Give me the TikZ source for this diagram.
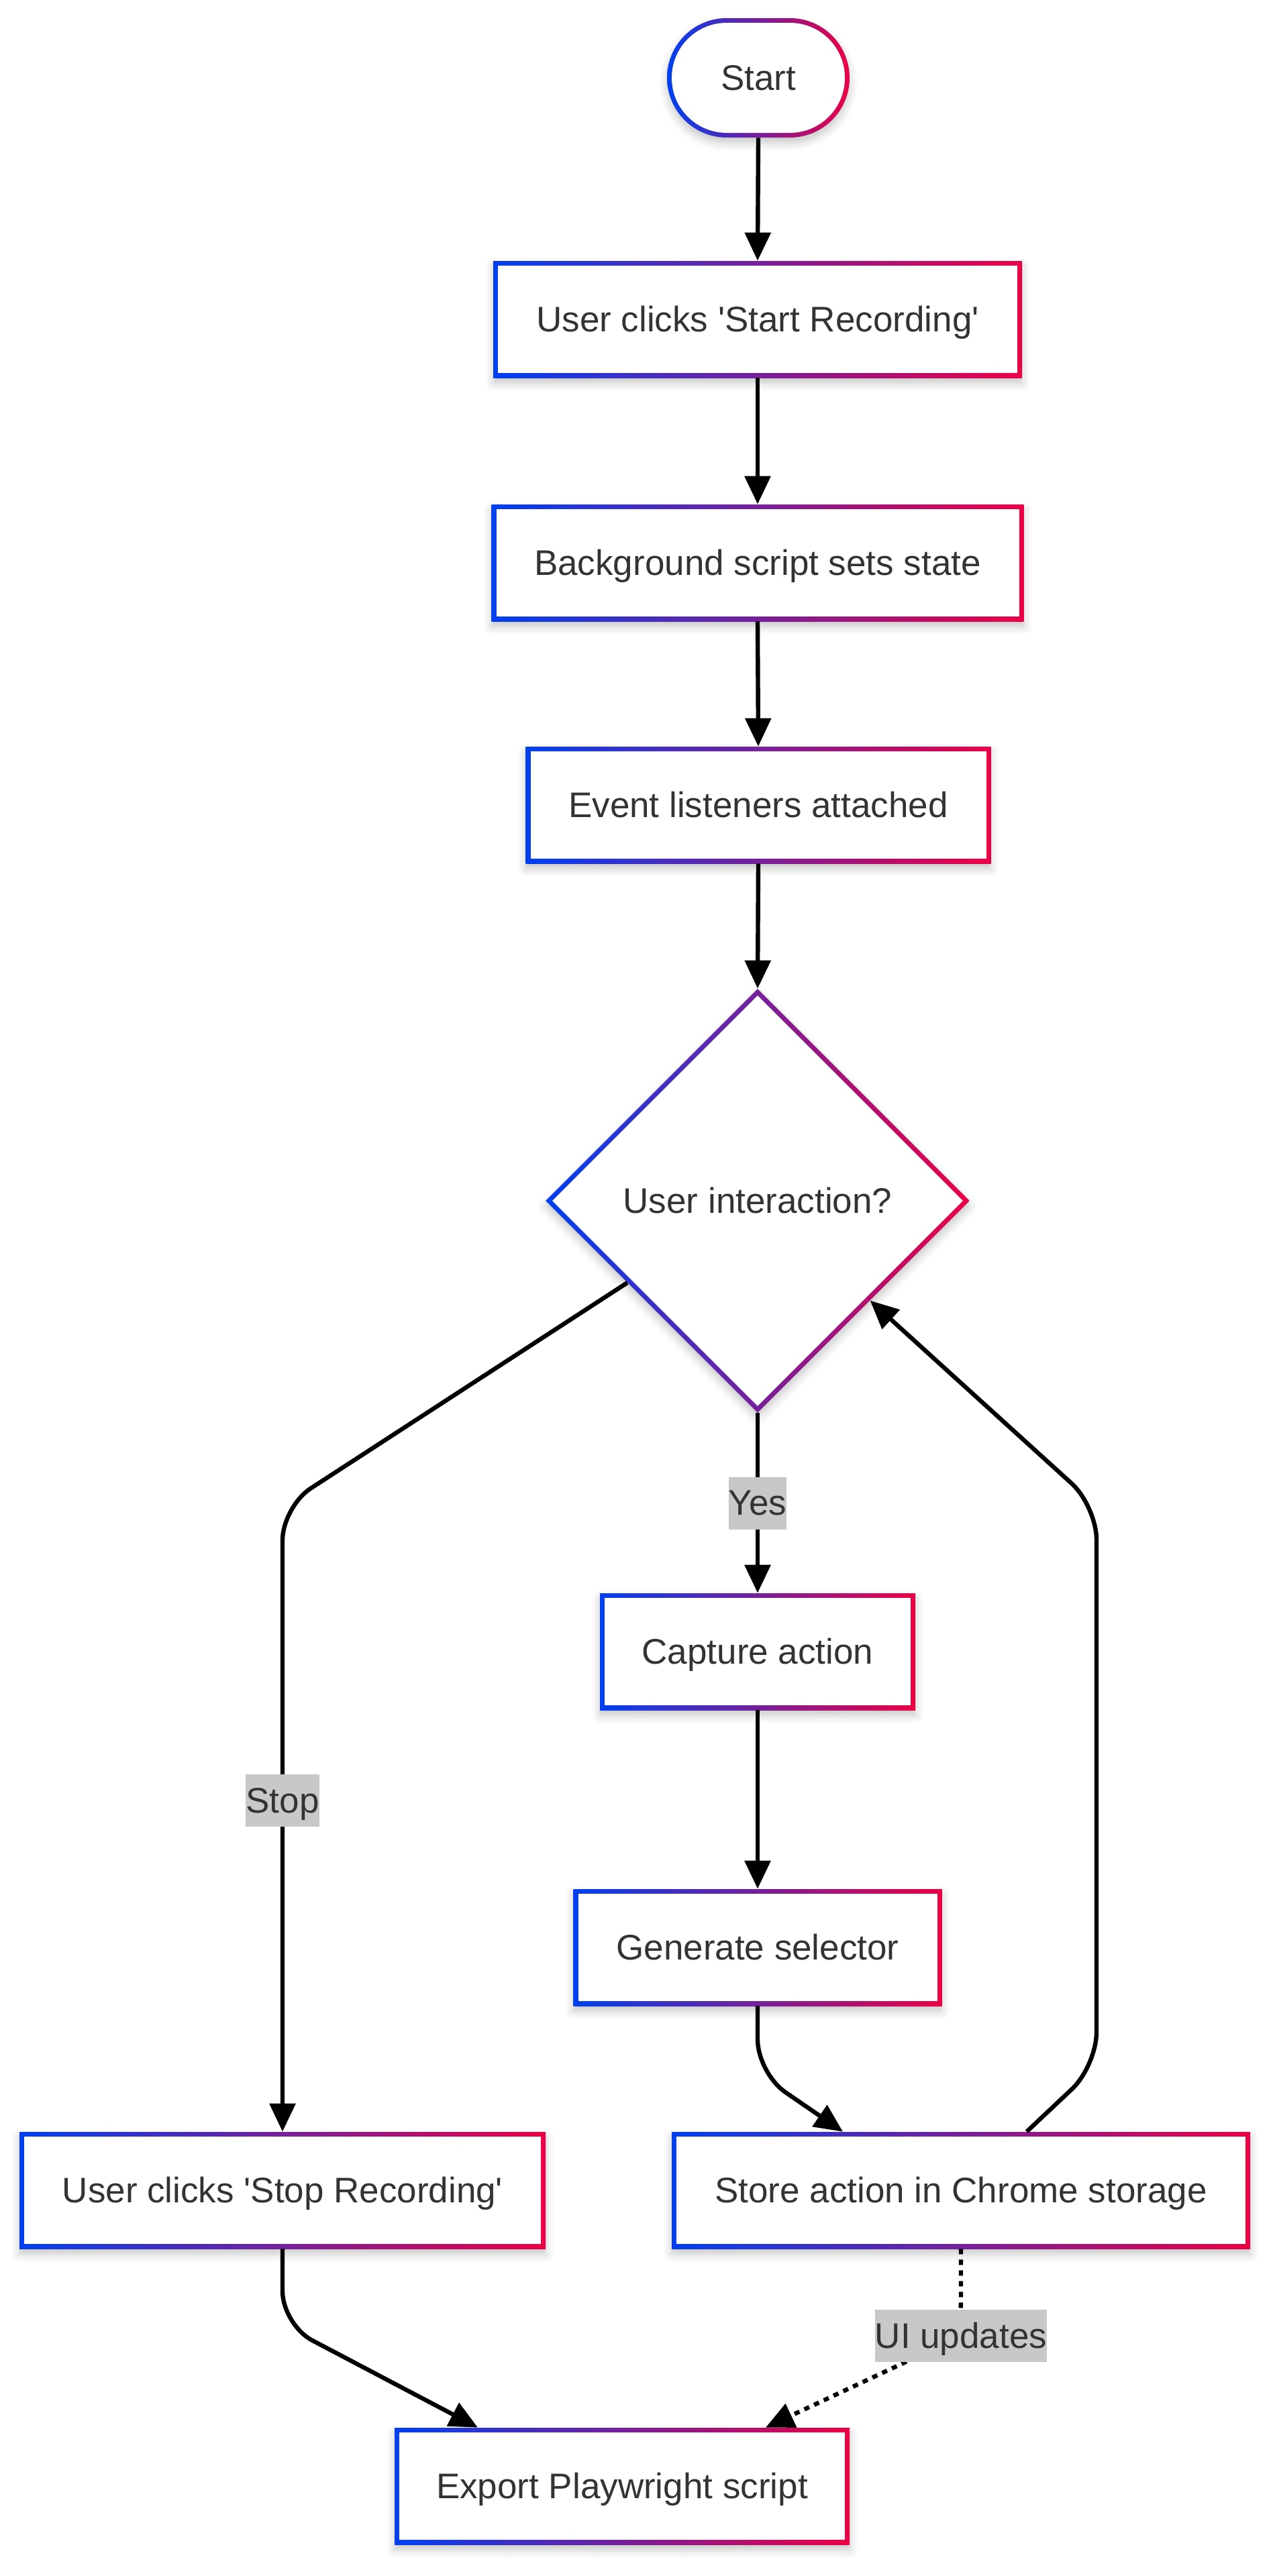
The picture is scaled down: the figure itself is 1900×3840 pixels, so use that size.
\documentclass[tikz,border=0pt]{standalone}
\usepackage{fontspec}
\setmainfont{Liberation Sans}
\usetikzlibrary{shapes.geometric,arrows.meta,calc,shadows.blur}
\definecolor{gblue}{HTML}{0040F0}
\definecolor{gred}{HTML}{EB0045}
\definecolor{txt}{HTML}{333333}
\definecolor{lblgray}{HTML}{C8C8C8}
\newcommand\mainf{\fontsize{26.5pt}{31pt}\selectfont}
\newcommand\bw{3.5pt}
\newcommand\sq{\textquotesingle}
\tikzset{
  base/.style={font=\mainf, text=txt, inner sep=0pt, text height=24pt, text depth=5.6pt,
    blur shadow={shadow xshift=0pt, shadow yshift=-4pt, shadow blur radius=6pt, shadow opacity=22}},
  gbox/.style 2 args={base, rectangle, minimum width=#1, minimum height=#2,
    path picture={
      \shade[left color=gblue, right color=gred] (path picture bounding box.south west) rectangle (path picture bounding box.north east);
      \fill[white] ([shift={(\bw,\bw)}]path picture bounding box.south west) rectangle ([shift={(-\bw,-\bw)}]path picture bounding box.north east);
    }},
  gstart/.style={base, rectangle, rounded corners=44.5pt, minimum width=136pt, minimum height=89pt,
    path picture={
      \shade[left color=gblue, right color=gred] (path picture bounding box.south west) rectangle (path picture bounding box.north east);
      \fill[white, rounded corners=41pt] ([shift={(\bw,\bw)}]path picture bounding box.south west) rectangle ([shift={(-\bw,-\bw)}]path picture bounding box.north east);
    }},
  gdia/.style={base, diamond, aspect=1, minimum width=316pt, minimum height=316pt,
    path picture={
      \shade[left color=gblue, right color=gred] (path picture bounding box.south west) rectangle (path picture bounding box.north east);
      \fill[white] ($(path picture bounding box.north)+(0,-5pt)$) -- ($(path picture bounding box.east)+(-5pt,0)$) -- ($(path picture bounding box.south)+(0,5pt)$) -- ($(path picture bounding box.west)+(5pt,0)$) -- cycle;
    }},
  conn/.style={line width=3.2pt, black, -{Triangle[length=21pt,width=19pt]}, rounded corners=25pt},
  dotconn/.style={conn, dash pattern=on 4pt off 4pt},
  lbl/.style={sharp corners, solid, fill=lblgray, font=\mainf, text=txt, inner xsep=0pt, inner ysep=0pt, minimum height=39pt, text height=24pt, text depth=5.6pt},
}
\begin{document}
\begin{tikzpicture}[x=0.5pt,y=-0.5pt]
\useasboundingbox (0,0) rectangle (1900,3840);
\node[gstart] (start) at (1130,116) {Start};
\node[gbox={394pt}{87pt}] (b1) at (1129,476) {User clicks \sq Start Recording\sq};
\node[gbox={396.5pt}{87pt}] (b2) at (1129,839) {Background script sets state};
\node[gbox={346.5pt}{87pt}] (b3) at (1130,1200) {Event listeners attached};
\node[gdia] (dia) at (1129,1790) {User interaction?};
\node[gbox={235pt}{87pt}] (cap) at (1129,2462) {Capture action};
\node[gbox={274.5pt}{87pt}] (gen) at (1129,2903) {Generate selector};
\node[gbox={431pt}{87pt}] (store) at (1432,3265) {Store action in Chrome storage};
\node[gbox={392pt}{87pt}] (stopb) at (421,3265) {User clicks \sq Stop Recording\sq};
\node[gbox={339pt}{87pt}] (exp) at (927,3706) {Export Playwright script};

\draw[conn] (start.south) -- (b1.north);
\draw[conn] (b1.south) -- (b2.north);
\draw[conn] (b2.south) -- (b3.north);
\draw[conn] (b3.south) -- (dia.north);
\draw[conn] ($(dia.west)!0.386!(dia.south)$) -- (421,2246) -- node[lbl,pos=0.47]{Stop} (stopb.north);
\draw[conn] (dia.south) -- node[lbl,pos=0.5]{Yes} (cap.north);
\draw[conn] (cap.south) -- (gen.north);
\draw[conn] (gen.south) -- ++(0,100) -- ([xshift=-88pt]store.north);
\draw[conn] ([xshift=49pt]store.north) -- ++(104,-98) -- (1634,2245) -- ($(dia.east)!0.47!(dia.south)$);
\draw[conn] (stopb.south) -- ++(0,113) -- ([xshift=-107.5pt]exp.north);
\draw[dotconn] (store.south) -- ++(0,130) node[lbl]{UI updates} -- ([xshift=107pt]exp.north);
\end{tikzpicture}
\end{document}
